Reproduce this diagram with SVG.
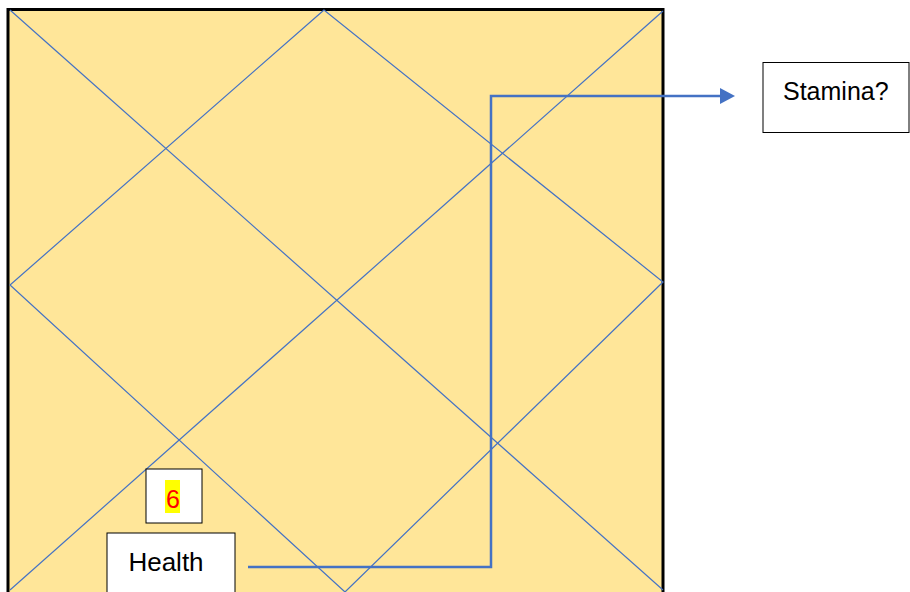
<svg xmlns="http://www.w3.org/2000/svg" width="910" height="592" viewBox="0 0 910 592">
<style>
.grid{stroke:#4472C4;stroke-width:1.2;fill:none}
.box{fill:#FFFFFF;stroke:#000000;stroke-width:1}
.lbl{font-family:"Liberation Sans","Open Sans",sans-serif;font-size:25px;fill:#000000}
.conn{stroke:#4472C4;stroke-width:2.5;fill:none}
</style>
<defs>
<marker id="arr" markerWidth="15" markerHeight="16" refX="0" refY="8" orient="auto" markerUnits="userSpaceOnUse" viewBox="0 0 15 16">
<path d="M0,0 L15,8 L0,16 Z" fill="#4472C4"/>
</marker>
</defs>
<rect width="910" height="592" fill="#FFFFFF"/>
<g id="chart">
<rect x="8" y="9.5" width="655" height="600" fill="#FFE699" stroke="#000000" stroke-width="3"/>
<line class="grid" x1="10" y1="10" x2="663" y2="590"/>
<line class="grid" x1="663" y1="11" x2="10" y2="590"/>
<polygon class="grid" points="324,10 10,285 345,592 663,282"/>
</g>
<g id="connectors">
<polyline class="conn" points="248,567 491,567 491,96 720,96" marker-end="url(#arr)"/>
</g>
<g id="node-6">
<rect class="box" x="146" y="469" width="56" height="54"/>
<rect x="165" y="480" width="15" height="33" fill="#FFFF00"/>
<text class="lbl" x="173" y="508" text-anchor="middle" style="fill:#FF0000">6</text>
</g>
<g id="node-health">
<rect class="box" x="107" y="533" width="128" height="70"/>
<text class="lbl" x="166" y="571" text-anchor="middle" style="font-size:26px">Health</text>
</g>
<g id="node-stamina">
<rect class="box" x="763" y="62.5" width="146" height="70"/>
<text class="lbl" x="783" y="100">Stamina?</text>
</g>
</svg>
